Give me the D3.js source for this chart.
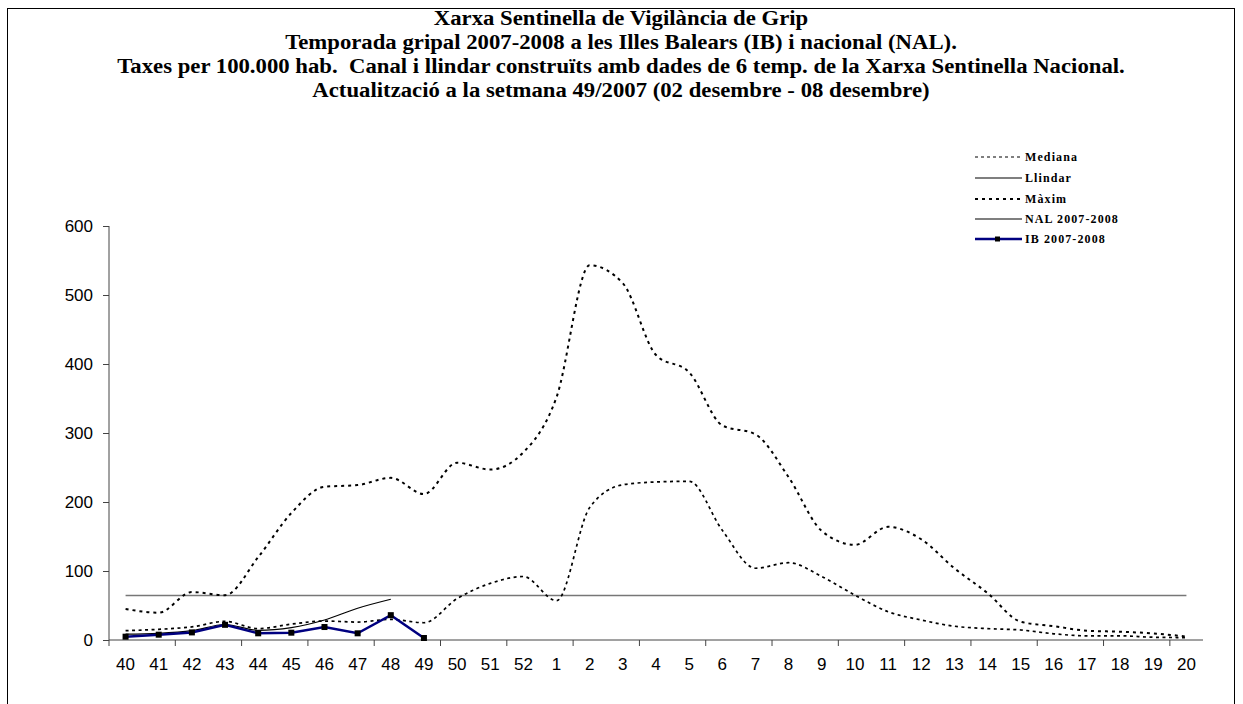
<!DOCTYPE html>
<html><head><meta charset="utf-8">
<script src="https://cdn.jsdelivr.net/npm/d3@7"></script>
<style>body{margin:0;background:#fff}svg{display:block}</style>
</head><body>
<svg id="c" width="1243" height="704"></svg>
<script>
const weeks = ["40","41","42","43","44","45","46","47","48","49","50","51","52","1","2","3","4","5","6","7","8","9","10","11","12","13","14","15","16","17","18","19","20"];
const mediana = [13.5,15.5,19,27,16.5,23,27.5,26,30,25,60,82,92,57,192,225,229,230,159,104,112,92,65,41,29,20,16.5,14.5,9,6,6,4,3.5];
const maxim = [45,39.5,69.5,65,120,184,222,224.5,235,211.5,257,247,272,352,543,517,413,388,311,298,236,158,138,164,146,104,68,26.5,20,13.5,12,9.5,5];
const llindarValue = 64.5;
const nalWeeks = ["40","41","42","43","44","45","46","47","48"];
const nal = [8.5,9.7,13.5,22.5,14,18,29,46,59];
const ibWeeks = ["40","41","42","43","44","45","46","47","48","49"];
const ib = [4.8,7.7,11,22,9.7,10.6,18.8,9.7,36,2.9];
const yTicks = [0,100,200,300,400,500,600];
const titles = ["Xarxa Sentinella de Vigilància de Grip",
 "Temporada gripal 2007-2008 a les Illes Balears (IB) i nacional (NAL).",
 "Taxes per 100.000 hab.  Canal i llindar construïts amb dades de 6 temp. de la Xarxa Sentinella Nacional.",
 "Actualització a la setmana 49/2007 (02 desembre - 08 desembre)"];
const legendItems = ["Mediana","Llindar","Màxim","NAL 2007-2008","IB 2007-2008"];

const svg = d3.select("#c");
svg.append("rect").attr("x",7.5).attr("y",8.5).attr("width",1227).attr("height",720)
  .attr("fill","#fff").attr("stroke","#000").attr("stroke-width",1);

const x = d3.scaleBand().domain(weeks).range([109,1203]).padding(0);
const y = d3.scaleLinear().domain([0,600]).range([640,226]);
const cx = w => x(w) + x.bandwidth()/2;

// titles
const tt = svg.selectAll("text.title").data(titles).join("text")
  .attr("class","title").attr("x",0).attr("y",0)
  .attr("text-anchor","middle")
  .style("white-space","pre")
  .style("font-family","'Liberation Serif','Times New Roman',serif")
  .style("font-weight","bold").style("font-size","20px").text(d=>d);
const w3 = tt.nodes()[2].getComputedTextLength();
const sx = 1008 / w3;
tt.attr("transform",(d,i)=>`translate(621,${25+i*24}) scale(${sx},1)`);

const tickFont = sel => sel.style("font-family","'Liberation Sans',Arial,sans-serif").style("font-size","17px").attr("fill","#000");

// y axis
const ya = svg.append("g").attr("transform","translate(109,0)")
  .call(d3.axisLeft(y).tickValues(yTicks).tickSize(6).tickPadding(10));
ya.select(".domain").attr("stroke","#444").attr("d","M0,226V640");
ya.selectAll(".tick line").attr("stroke","#444");
ya.selectAll("text").call(tickFont);

// x axis
const xa = svg.append("g").attr("transform","translate(0,640)")
  .call(d3.axisBottom(x).tickSize(0).tickPadding(18));
xa.select(".domain").attr("stroke","#444").attr("d","M109,0H1203");
xa.selectAll("text").call(tickFont);
svg.append("g").selectAll("line").data(weeks.filter((d,i)=>i%2===0)).join("line")
  .attr("x1",d=>x(d)).attr("x2",d=>x(d)).attr("y1",640).attr("y2",646)
  .attr("stroke","#444");

const smooth = d3.curveMonotoneX;
const line = (ws, vs, curve) => d3.line().curve(curve).x((d,i)=>cx(ws[i])).y(d=>y(d))(vs);

// llindar
svg.append("line").attr("x1",cx(weeks[0])).attr("x2",cx(weeks[weeks.length-1]))
  .attr("y1",y(llindarValue)).attr("y2",y(llindarValue))
  .attr("stroke","#777").attr("stroke-width",1.6);

// mediana
svg.append("path").attr("d",line(weeks,mediana,smooth)).attr("fill","none")
  .attr("stroke","#000").attr("stroke-width",1.7).attr("stroke-dasharray","3 3.5");
// maxim
svg.append("path").attr("d",line(weeks,maxim,smooth)).attr("fill","none")
  .attr("stroke","#000").attr("stroke-width",2).attr("stroke-dasharray","3 4");
// NAL
svg.append("path").attr("d",line(nalWeeks,nal,d3.curveMonotoneX)).attr("fill","none")
  .attr("stroke","#000").attr("stroke-width",1.2);
// IB
svg.append("path").attr("d",line(ibWeeks,ib,d3.curveLinear)).attr("fill","none")
  .attr("stroke","#000080").attr("stroke-width",2.5);
svg.append("g").selectAll("rect").data(ib).join("rect")
  .attr("x",(d,i)=>cx(ibWeeks[i])-3).attr("y",d=>y(d)-3).attr("width",6).attr("height",6).attr("fill","#000");

// legend
const lg = svg.append("g");
const ly = [157,178,199,219,239];
const styles = [
  {stroke:"#000",w:1.2,dash:"3 3"},
  {stroke:"#000",w:1.2,dash:null},
  {stroke:"#000",w:2,dash:"3 4"},
  {stroke:"#000",w:1.2,dash:null},
  {stroke:"#000080",w:2.5,dash:null}];
legendItems.forEach((t,i)=>{
  const s = styles[i];
  lg.append("line").attr("x1",975).attr("x2",1022).attr("y1",ly[i]).attr("y2",ly[i])
    .attr("stroke",s.stroke).attr("stroke-width",s.w).attr("stroke-dasharray",s.dash);
  if(i===4) lg.append("rect").attr("x",995).attr("y",ly[i]-2.5).attr("width",5).attr("height",5).attr("fill","#000");
  lg.append("text").attr("x",1025).attr("y",ly[i]+4).text(t)
    .style("font-family","'Liberation Serif','Times New Roman',serif")
    .style("font-weight","bold").style("font-size","12px").style("letter-spacing","1.1px");
});
</script>
</body></html>
